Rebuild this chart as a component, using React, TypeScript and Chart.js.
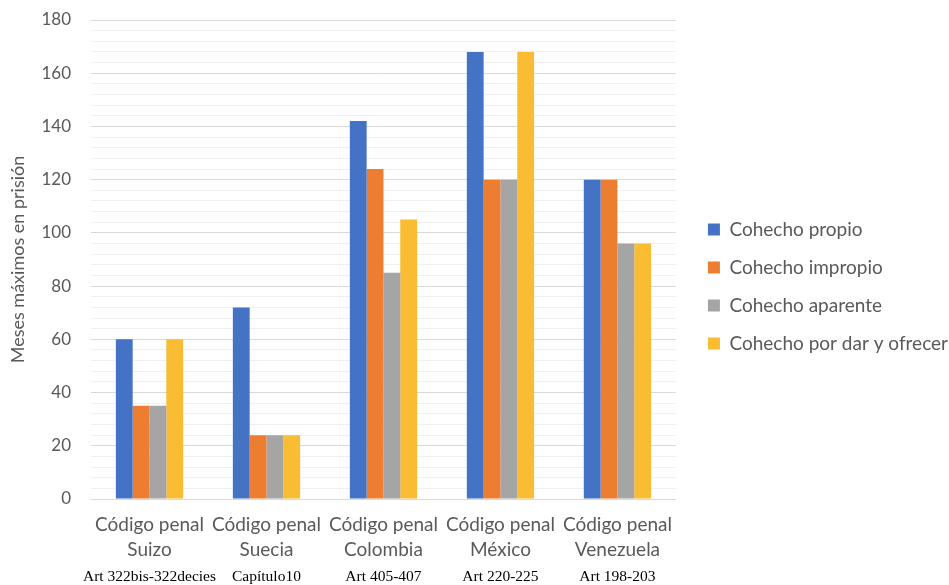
import React, { useEffect, useRef } from "react";
import { Chart, registerables } from "chart.js";

Chart.register(...registerables);

const countries = [
  ["Código penal", "Suizo"],
  ["Código penal", "Suecia"],
  ["Código penal", "Colombia"],
  ["Código penal", "México"],
  ["Código penal", "Venezuela"],
];
const articles = ["Art 322bis-322decies", "Capítulo10", "Art 405-407", "Art 220-225", "Art 198-203"];

const seriesNames = ["Cohecho propio", "Cohecho impropio", "Cohecho aparente", "Cohecho por dar y ofrecer"];
const propio = [60, 72, 142, 168, 120];
const impropio = [35, 24, 124, 120, 120];
const aparente = [35, 24, 85, 120, 96];
const darOfrecer = [60, 24, 105, 168, 96];
const colors = ["#4472C4", "#ED7D31", "#A5A5A5", "#F9BC33"];

const yTitle = "Meses máximos en prisión";

export default function App() {
  const ref = useRef<HTMLCanvasElement | null>(null);
  useEffect(() => {
    if (!ref.current) return;
    const values = [propio, impropio, aparente, darOfrecer];
    const chart = new Chart(ref.current, {
      type: "bar",
      data: {
        labels: countries as any,
        datasets: seriesNames.map((n, i) => ({
          label: n,
          data: values[i],
          backgroundColor: colors[i],
          borderWidth: 0,
          barPercentage: 1,
          categoryPercentage: 0.575,
          yAxisID: "y",
          xAxisID: "x",
        })),
      },
      options: {
        animation: false,
        responsive: false,
        maintainAspectRatio: false,
        layout: { padding: { top: 20, right: -9, left: 0, bottom: 0 } },
        plugins: {
          tooltip: { enabled: false },
          legend: {
            position: "right",
            align: "start",
            maxWidth: 320,
            title: {
              display: true,
              text: " ",
              font: { size: 10, lineHeight: 1.2 },
              padding: { top: 169, bottom: 0 },
            },
            labels: {
              boxWidth: 12,
              boxHeight: 12,
              padding: 19,
              color: "#595959",
              font: { family: "Lato", size: 19 },
            },
          },
        },
        scales: {
          x: {
            grid: { display: false, drawTicks: false },
            border: { display: true, color: "#d9d9d9" },
            ticks: {
              color: "#595959",
              font: { family: "Lato", size: 19, lineHeight: 1.3 },
              maxRotation: 0,
              autoSkip: false,
              padding: 13.5,
            },
            afterFit: (s: any) => {
              s.height = 63;
            },
          },
          x2: {
            type: "category",
            labels: articles,
            position: "bottom",
            offset: true,
            grid: { display: false, drawTicks: false },
            border: { display: false },
            ticks: {
              color: "#000000",
              font: { family: "Liberation Serif", size: 15.5, lineHeight: 1.2 },
              maxRotation: 0,
              autoSkip: false,
              padding: 5.5,
            },
            afterFit: (s: any) => {
              s.height = 23;
            },
          },
          y: {
            min: 0,
            max: 180,
            border: { display: false },
            grid: {
              drawTicks: false,
              color: (ctx: any) => (ctx.tick && ctx.tick.value % 20 === 0 ? "#d9d9d9" : "#f0f0f0"),
            },
            ticks: {
              stepSize: 4,
              autoSkip: false,
              padding: 20,
              color: "#595959",
              font: { family: "Lato", size: 17 },
              callback: (v: any) => (Number(v) % 20 === 0 ? String(v) : ""),
            },
            title: {
              display: true,
              text: yTitle,
              color: "#595959",
              font: { family: "Lato", size: 18 },
              padding: { top: 7, bottom: 0 },
            },
            afterFit: (s: any) => {
              s.width = 91;
              s.paddingTop = 0;
              s.paddingBottom = 0;
            },
          },
          yR: {
            type: "linear",
            position: "right",
            display: true,
            grid: { display: false, drawTicks: false },
            border: { display: false },
            ticks: { display: false },
            afterFit: (s: any) => {
              s.width = 13;
            },
          },
        },
      },
    });
    return () => chart.destroy();
  }, []);
  return (
    <div style={{ position: "fixed", left: 0, top: 0, width: 949, height: 585, background: "#fff" }}>
      <canvas ref={ref} width={949} height={585} style={{ width: 949, height: 585 }} />
    </div>
  );
}
